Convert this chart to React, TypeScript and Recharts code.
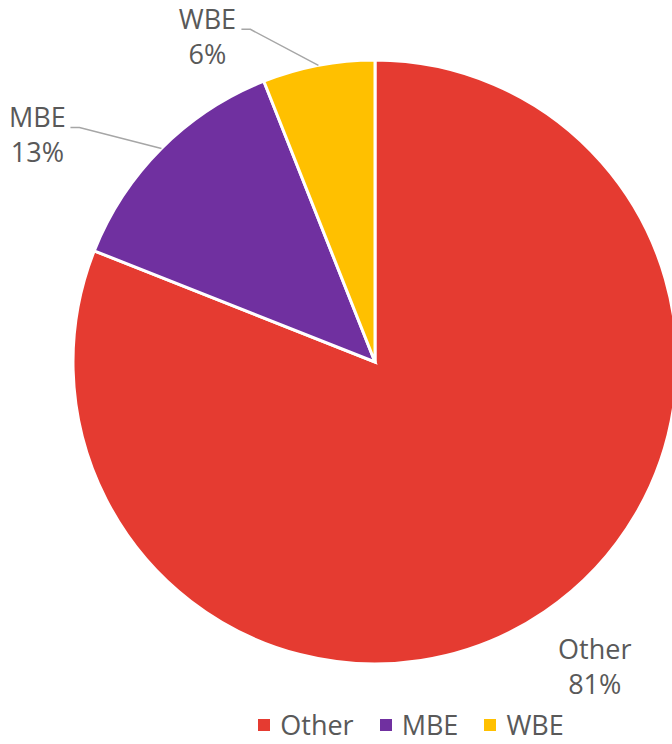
import { PieChart, Pie, Cell, Legend } from "recharts";

const CATEGORIES = ["Other", "MBE", "WBE"];
const SHARES = [81, 13, 6];
const COLORS = ["#E53B31", "#7030A0", "#FFC000"];

const data = CATEGORIES.map((name, i) => ({ name, value: SHARES[i] }));

const FONT = "'Open Sans', sans-serif";
const TEXT = "#595959";
const LEADER = "#A6A6A6";
const RADIAN = Math.PI / 180;
const FS = 27;

// label placement relative to where each slice's mid-angle meets the rim
const LABEL_LAYOUT = [
  { dx: 50, dy: 47, leader: null },
  { dx: -124, dy: -21, leader: { bx: -82, by: -21, sx: -91 } },
  { dx: -111, dy: -36, leader: { bx: -68, by: -36, sx: -77 } },
];

function renderLabel(props: any) {
  const { cx, cy, midAngle, outerRadius, index, name, percent } = props;
  const ex = cx + outerRadius * Math.cos(-midAngle * RADIAN);
  const ey = cy + outerRadius * Math.sin(-midAngle * RADIAN);
  const l = LABEL_LAYOUT[index];
  const tx = ex + l.dx;
  const ty = ey + l.dy;
  return (
    <g key={`lbl-${index}`}>
      {l.leader && (
        <polyline
          points={`${ex},${ey} ${ex + l.leader.bx},${ey + l.leader.by} ${ex + l.leader.sx},${ey + l.leader.by}`}
          fill="none"
          stroke={LEADER}
          strokeWidth={1.5}
        />
      )}
      <text x={tx} y={ty} textAnchor="middle" fill={TEXT} fontSize={FS} fontFamily={FONT}>
        <tspan x={tx}>{name}</tspan>
        <tspan x={tx} dy={35}>{`${Math.round(percent * 100)}%`}</tspan>
      </text>
    </g>
  );
}

function LegendContent() {
  return (
    <div style={{ display: "flex", justifyContent: "center", paddingLeft: 150, fontFamily: FONT, fontSize: FS, lineHeight: "28px", color: TEXT }}>
      {CATEGORIES.map((c, i) => (
        <div key={c} style={{ display: "flex", alignItems: "center", marginLeft: i ? 26 : 0 }}>
          <span style={{ width: 12, height: 12, background: COLORS[i], display: "inline-block", marginRight: 10 }} />
          <span>{c}</span>
        </div>
      ))}
    </div>
  );
}

export default function App() {
  return (
    <div style={{ position: "absolute", left: 0, top: 0, width: 672, height: 744, background: "#fff", overflow: "hidden" }}>
      <PieChart width={672} height={744} margin={{ top: 0, right: 0, bottom: 0, left: 0 }}>
        <Pie
          data={data}
          dataKey="value"
          nameKey="name"
          cx={375}
          cy={362}
          outerRadius={302}
          startAngle={90}
          endAngle={-270}
          stroke="#fff"
          strokeWidth={3}
          label={renderLabel}
          labelLine={false}
          isAnimationActive={false}
        >
          {data.map((d, i) => (
            <Cell key={d.name} fill={COLORS[i]} />
          ))}
        </Pie>
        <Legend content={<LegendContent />} wrapperStyle={{ position: "absolute", top: 711, left: 0, width: 672 }} />
      </PieChart>
    </div>
  );
}
